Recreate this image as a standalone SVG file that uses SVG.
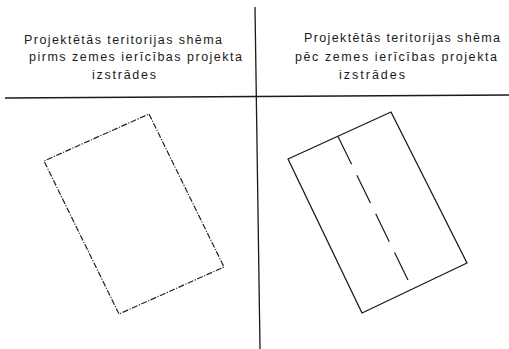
<svg xmlns="http://www.w3.org/2000/svg" width="509" height="349" viewBox="0 0 509 349">
<style>
.t{font-family:"Liberation Sans","DejaVu Sans",Arial,sans-serif;font-size:12.5px;fill:#1a1a1a;}
.frame{stroke:#1a1a1a;stroke-width:1.3;fill:none;}
.dd{stroke:#222;stroke-width:1.2;fill:none;stroke-dasharray:6 1.5 1.2 1.5;}
.solid{stroke:#1a1a1a;stroke-width:1.3;fill:none;stroke-linejoin:round;}
.axis{stroke:#1a1a1a;stroke-width:1.2;fill:none;stroke-dasharray:31 12;}
</style>
<rect width="509" height="349" fill="#ffffff"/>
<g id="frame">
<line class="frame" x1="255" y1="7" x2="260" y2="349"/>
<line class="frame" x1="5" y1="98" x2="509" y2="95"/>
</g>
<g id="title-left">
<text class="t" x="24" y="44" textLength="198" lengthAdjust="spacing">Projektētās teritorijas shēma</text>
<text class="t" x="29" y="61" textLength="213" lengthAdjust="spacing">pirms zemes ierīcības projekta</text>
<text class="t" x="92" y="79" textLength="64" lengthAdjust="spacing">izstrādes</text>
</g>
<g id="title-right">
<text class="t" x="304" y="42" textLength="196" lengthAdjust="spacing">Projektētās teritorijas shēma</text>
<text class="t" x="295" y="61" textLength="202" lengthAdjust="spacing">pēc zemes ierīcības projekta</text>
<text class="t" x="339" y="79" textLength="66" lengthAdjust="spacing">izstrādes</text>
</g>
<g id="plot-before">
<polygon class="dd" points="149,114 224,267 119,314 44,161"/>
</g>
<g id="plot-after">
<polygon class="solid" points="391,112 467,263 362,313 288,159"/>
</g>
<g id="connectors">
<line class="axis" x1="338" y1="136.5" x2="408" y2="280"/>
</g>
</svg>
